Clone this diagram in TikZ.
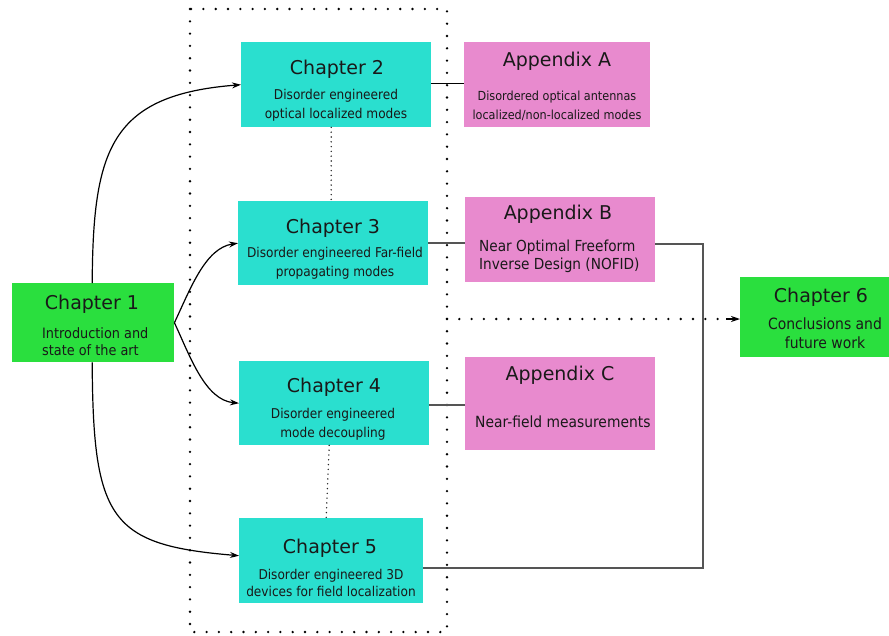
\documentclass[tikz,border=0pt]{standalone}
\usepackage{fontspec}
\setmainfont{DejaVu Sans}
\newfontfamily\bodyfont{DejaVu Sans Condensed}
\usetikzlibrary{arrows.meta}
\definecolor{cyanbox}{HTML}{2ADFCF}
\definecolor{pinkbox}{HTML}{E88ACE}
\definecolor{greenbox}{HTML}{2ADF3E}
\definecolor{lineg}{HTML}{555555}
\begin{document}
\begin{tikzpicture}[x=1pt,y=-1pt,
  box/.style={draw=none,inner sep=0pt,anchor=north west},
  ttl/.style={inner sep=0pt,font=\fontsize{19}{21}\selectfont,text=black!90},
  bdy/.style={inner sep=0pt,font=\bodyfont\fontsize{13.5}{19}\selectfont,text=black!90},
  gbdy/.style={inner sep=0pt,font=\bodyfont\fontsize{14.3}{19}\selectfont,text=black!90},
  pbdy/.style={inner sep=0pt,font=\bodyfont\fontsize{15.2}{19}\selectfont,text=black!90},
  bigdots/.style={line width=2.6pt,dash pattern=on 0pt off 12.3pt,line cap=round},
  smalldots/.style={line width=1.6pt,dash pattern=on 0pt off 4.8pt,line cap=round,draw=black!85},
  curvearrow/.style={line width=1.2pt,-{Stealth[length=9pt,width=6pt]}},
  link/.style={line width=1.1pt,draw=lineg}]
\useasboundingbox (0,0) rectangle (889,635);
% boxes
\node[box,fill=greenbox,minimum width=162pt,minimum height=79pt] (c1) at (12,283) {};
\node[box,fill=cyanbox,minimum width=190pt,minimum height=85pt] (c2) at (241,42) {};
\node[box,fill=cyanbox,minimum width=190pt,minimum height=84pt] (c3) at (238,201) {};
\node[box,fill=cyanbox,minimum width=190pt,minimum height=84pt] (c4) at (239,361) {};
\node[box,fill=cyanbox,minimum width=184pt,minimum height=85pt] (c5) at (239,518) {};
\node[box,fill=pinkbox,minimum width=186pt,minimum height=85pt] (aa) at (464,42) {};
\node[box,fill=pinkbox,minimum width=190pt,minimum height=85pt] (ab) at (465,197) {};
\node[box,fill=pinkbox,minimum width=190pt,minimum height=93pt] (ac) at (465,357) {};
\node[box,fill=greenbox,minimum width=149pt,minimum height=80pt] (c6) at (740,277) {};
% texts
\node[ttl] (c1t) at (92,304) {Chapter 1};
\node[gbdy,anchor=west] (c1a) at (42,333) {Introduction and};
\node[gbdy,anchor=west] (c1b) at (42,350) {state of the art};
\node[ttl] (c2t) at (337,69) {Chapter 2};
\node[bdy] (c2a) at (336,96) {Disorder engineered};
\node[bdy] (c2b) at (336,115) {optical localized modes};
\node[ttl] (c3t) at (333,228) {Chapter 3};
\node[bdy] (c3a) at (335,254) {Disorder engineered Far-field};
\node[bdy] (c3b) at (335,273) {propagating modes};
\node[ttl] (c4t) at (334,387) {Chapter 4};
\node[bdy] (c4a) at (333,415) {Disorder engineered};
\node[bdy] (c4b) at (333,434) {mode decoupling};
\node[ttl] (c5t) at (330,548) {Chapter 5};
\node[bdy] (c5a) at (331,576) {Disorder engineered 3D};
\node[bdy] (c5b) at (331,591) {devices for field localization};
\node[ttl] (aat) at (557,61) {Appendix A};
\node[bdy,font=\bodyfont\fontsize{12.5}{18}\selectfont] (aaa) at (557,97) {Disordered optical antennas};
\node[bdy,font=\bodyfont\fontsize{12.5}{18}\selectfont] (aab) at (557,115) {localized/non-localized modes};
\node[ttl] (abt) at (558,214) {Appendix B};
\node[pbdy,anchor=west] (aba) at (479,247) {Near Optimal Freeform};
\node[pbdy,anchor=west] (abb) at (479,265) {Inverse Design (NOFID)};
\node[ttl] (act) at (560,375) {Appendix C};
\node[pbdy,anchor=west,font=\bodyfont\fontsize{15.4}{19}\selectfont] (aca) at (475,422) {Near-field measurements};
\node[ttl] (c6t) at (821,297) {Chapter 6};
\node[pbdy,font=\bodyfont\fontsize{15.5}{19}\selectfont] (c6a) at (825,324) {Conclusions and};
\node[pbdy,font=\bodyfont\fontsize{15.5}{19}\selectfont] (c6b) at (825,343) {future work};
% dotted frame
\draw[bigdots] (190,9) rectangle (447,632);
% dotted links between chapters
\draw[smalldots] ([xshift=-5pt]c2.south) -- ([xshift=-2pt]c3.north);
\draw[smalldots] ([xshift=-5pt]c4.south) -- ([xshift=-5pt]c5.north);
% curved arrows
\draw[curvearrow] ([xshift=-1pt]c1.north) .. controls (93,150) and (110,95) .. (c2.west);
\draw[curvearrow] (c1.east) .. controls (190,290) and (205,248) .. (c3.west);
\draw[curvearrow] (c1.east) .. controls (190,356) and (205,400) .. (c4.west);
\draw[curvearrow] ([xshift=-1pt]c1.south) .. controls (93,520) and (110,545) .. ([yshift=5pt]c5.west);
% straight links
\draw[line width=1.1pt] ([yshift=1.5pt]c2.east) -- ([yshift=1.5pt]aa.west);
\coordinate (l3) at (0,243);
\draw[link] (l3 -| c3.east) -- (l3 -| ab.west);
\coordinate (l4) at (0,405);
\draw[link] (l4 -| c4.east) -- (l4 -| ac.west);
\coordinate (bend1) at (703,244);
\coordinate (bend2) at (703,568);
\draw[link] (ab.east |- bend1) -- (bend1) -- (bend2) -- (c5.east |- bend2);
% dotted arrow to chapter 6
\coordinate (fr) at (447,319);
\draw[bigdots] (fr) -- ([xshift=-12pt]fr -| c6.west);
\draw[line width=1.2pt,-{Stealth[length=9pt,width=6pt]}] ([xshift=-14pt]fr -| c6.west) -- (fr -| c6.west);
\end{tikzpicture}
\end{document}
